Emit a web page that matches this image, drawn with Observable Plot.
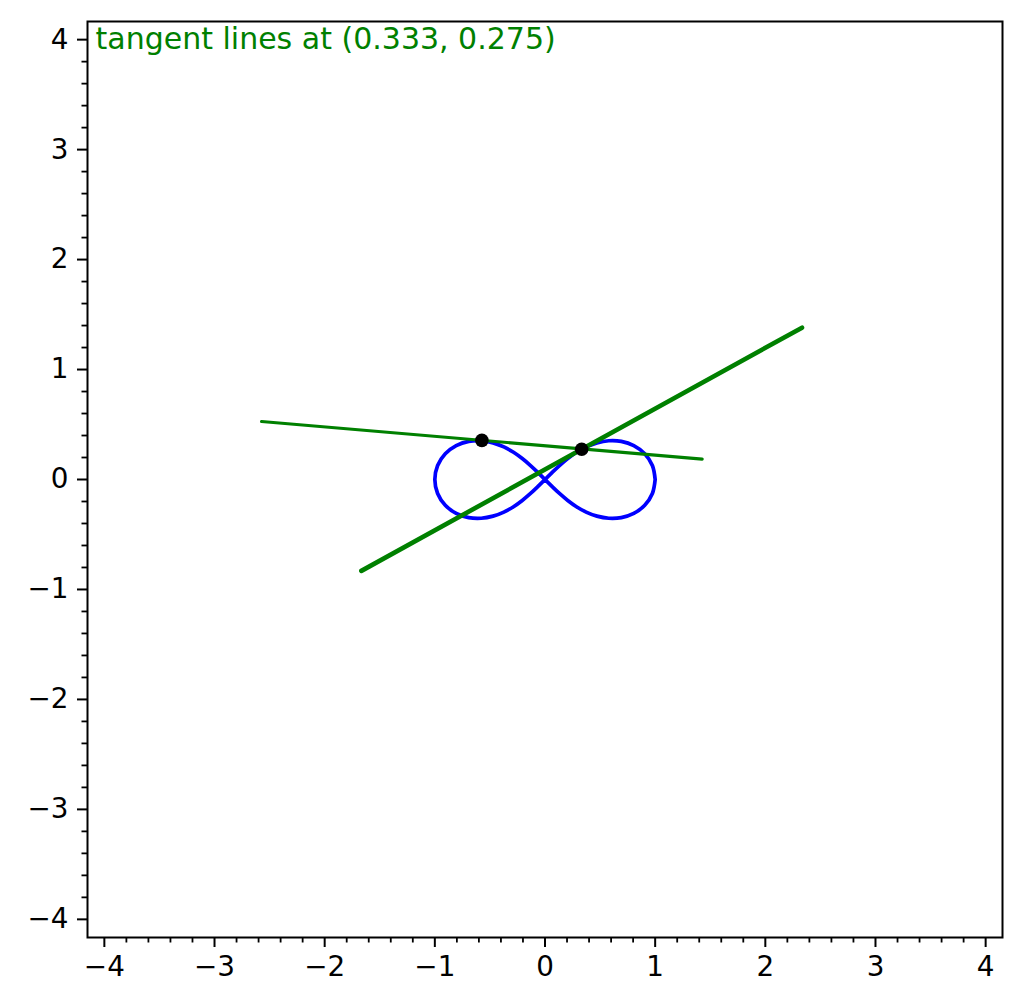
<!DOCTYPE html>
<html>
<head>
<meta charset="utf-8">
<script src="https://cdn.jsdelivr.net/npm/d3@7"></script>
<script src="https://cdn.jsdelivr.net/npm/@observablehq/plot@0.6"></script>
<style>
  html, body { margin: 0; padding: 0; background: #fff; }
</style>
</head>
<body>
<div id="chart"></div>
<script>
const titleText = "tangent lines at (0.333, 0.275)";

const majorTicks = [-4, -3, -2, -1, 0, 1, 2, 3, 4];

// figure-eight curve points
const curveX = [1, 0.9748, 0.9053, 0.8059, 0.6928, 0.5789, 0.4714, 0.3736, 0.2857, 0.2065, 0.1339, 0.0658, 0,
  -0.0658, -0.1339, -0.2065, -0.2857, -0.3736, -0.4714, -0.5789, -0.6928, -0.8059, -0.9053, -0.9748, -1,
  -0.9748, -0.9053, -0.8059, -0.6928, -0.5789, -0.4714, -0.3736, -0.2857, -0.2065, -0.1339, -0.0658, 0,
  0.0658, 0.1339, 0.2065, 0.2857, 0.3736, 0.4714, 0.5789, 0.6928, 0.8059, 0.9053, 0.9748, 1];
const curveY = [0, 0.1272, 0.2343, 0.3084, 0.3464, 0.3524, 0.3333, 0.2964, 0.2474, 0.1907, 0.1293, 0.0652, 0,
  -0.0652, -0.1293, -0.1907, -0.2474, -0.2964, -0.3333, -0.3524, -0.3464, -0.3084, -0.2343, -0.1272, 0,
  0.1272, 0.2343, 0.3084, 0.3464, 0.3524, 0.3333, 0.2964, 0.2474, 0.1907, 0.1293, 0.0652, 0,
  -0.0652, -0.1293, -0.1907, -0.2474, -0.2964, -0.3333, -0.3524, -0.3464, -0.3084, -0.2343, -0.1272, 0];

// tangent line endpoints
const line1X = [-1.667, 2.333];
const line1Y = [-0.831, 1.381];
const line2X = [-2.573, 1.427];
const line2Y = [0.527, 0.185];

// points of tangency
const pointX = [0.333, -0.573];
const pointY = [0.275, 0.356];

const zip = (xs, ys) => xs.map((x, i) => ({x, y: ys[i]}));
const minorTicks = d3.range(-4, 4.001, 0.2).filter(v => Math.abs(v - Math.round(v)) > 1e-6);

const chart = Plot.plot({
  width: 1023,
  height: 1008,
  marginLeft: 87,
  marginRight: 21,
  marginTop: 21,
  marginBottom: 71,
  style: {fontFamily: "DejaVu Sans", fontSize: "27.8px", background: "#fff", color: "#000"},
  x: {domain: [-4.153, 4.153], label: null},
  y: {domain: [-4.165, 4.165], label: null},
  marks: [
    Plot.line(zip(curveX, curveY), {x: "x", y: "y", stroke: "#0000ff", strokeWidth: 3.7, curve: "catmull-rom"}),
    Plot.line(zip(line1X, line1Y), {x: "x", y: "y", stroke: "#008000", strokeWidth: 4.6}),
    Plot.line(zip(line2X, line2Y), {x: "x", y: "y", stroke: "#008000", strokeWidth: 3.1}),
    Plot.dot(zip(pointX, pointY), {x: "x", y: "y", r: 6.8, fill: "#000", stroke: "none"}),
    Plot.text([titleText], {frameAnchor: "top-left", dx: 8, dy: 6, fill: "#008000", fontSize: 30, textAnchor: "start", lineAnchor: "top"}),
    Plot.axisX({ticks: minorTicks, tickSize: 5.5, strokeWidth: 1.8, tickFormat: () => "", label: null}),
    Plot.axisY({ticks: minorTicks, tickSize: 5.5, strokeWidth: 1.8, tickFormat: () => "", label: null}),
    Plot.axisX({ticks: majorTicks, tickSize: 10, tickPadding: 9, strokeWidth: 2, label: null}),
    Plot.axisY({ticks: majorTicks, tickSize: 10, tickPadding: 9, strokeWidth: 2, label: null}),
    Plot.frame({stroke: "#000", strokeWidth: 2})
  ]
});
document.getElementById("chart").appendChild(chart);
</script>
</body>
</html>
